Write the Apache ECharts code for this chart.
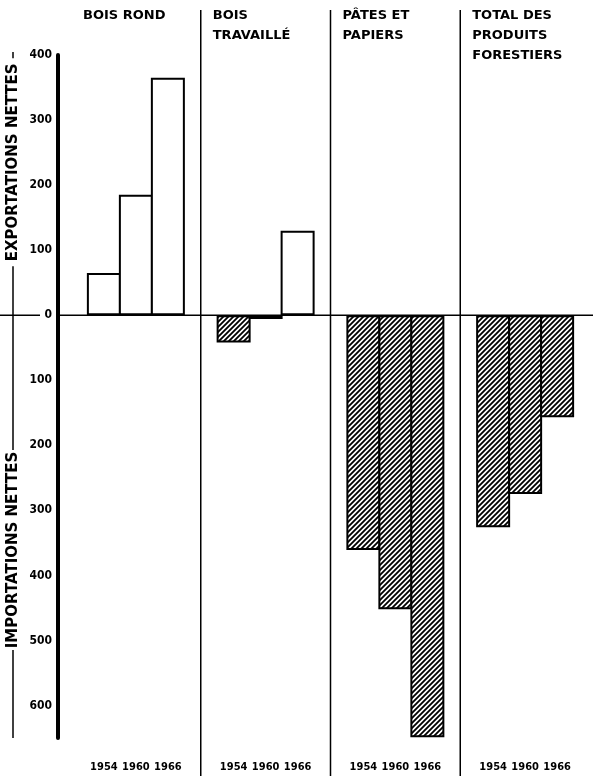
<!DOCTYPE html>
<html>
<head>
<meta charset="utf-8">
<script src="https://cdn.jsdelivr.net/npm/echarts@6/dist/echarts.min.js"></script>
<style>
html,body{margin:0;padding:0;background:#fff;}
#c{width:593px;height:778px;}
</style>
</head>
<body>
<div id="c"></div>
<script>
// ---- data ----
var groups = ['BOIS ROND', 'BOIS\nTRAVAILLÉ', 'PÂTES ET\nPAPIERS', 'TOTAL DES\nPRODUITS\nFORESTIERS'];
var years = ['1954', '1960', '1966'];
var v1954 = [65, -42, -361, -326];
var v1960 = [185, -6, -452, -275];
var v1966 = [365, 130, -649, -157];
var yTicks = [400, 300, 200, 100, 0, -100, -200, -300, -400, -500, -600];
var exportTitle = 'EXPORTATIONS NETTES';
var importTitle = 'IMPORTATIONS NETTES';

// ---- hatch pattern ----
var tile = document.createElement('canvas');
tile.width = 5; tile.height = 5;
var g = tile.getContext('2d');
g.fillStyle = '#fff'; g.fillRect(0, 0, 5, 5);
g.strokeStyle = '#000'; g.lineWidth = 1.8;
g.beginPath();
g.moveTo(-1, 6); g.lineTo(6, -1);
g.moveTo(-1, 1); g.lineTo(1, -1);
g.moveTo(4, 6); g.lineTo(6, 4);
g.stroke();
var hatch = { image: tile, repeat: 'repeat' };

function buildData(arr) {
  return arr.map(function (v) {
    return { value: v, itemStyle: { color: v < 0 ? hatch : '#fff' } };
  });
}
var seriesVals = [v1954, v1960, v1966];

var chart = echarts.init(document.getElementById('c'), null, { renderer: 'canvas' });
var font = 'DejaVu Sans';
var condensed = 'DejaVu Sans Condensed';

chart.setOption({
  animation: false,
  backgroundColor: '#fff',
  grid: { left: 71, right: 3, top: 55, bottom: 40, containLabel: false },
  xAxis: {
    type: 'category',
    data: groups,
    axisLine: { show: false },
    axisTick: { show: false },
    splitLine: { show: false },
    axisLabel: {
      margin: 24,
      interval: 0,
      formatter: function () {
        return years.map(function (y) { return '{y|' + y + '}'; }).join('');
      },
      rich: { y: { width: 32, align: 'center', fontSize: 11, fontWeight: 'bold', fontFamily: condensed, color: '#000' } }
    }
  },
  yAxis: {
    type: 'value',
    min: -650, max: 400, interval: 50,
    offset: 13,
    axisLine: { show: true, lineStyle: { color: '#000', width: 4 } },
    axisTick: { show: false },
    splitLine: { show: false },
    axisLabel: {
      margin: 6,
      color: '#000',
      fontSize: 12,
      fontWeight: 'bold',
      fontFamily: condensed,
      formatter: function (v) {
        return yTicks.indexOf(v) >= 0 ? String(Math.abs(v)) : '';
      }
    }
  },
  series: seriesVals.map(function (arr, i) {
    return {
      type: 'bar',
      name: years[i],
      data: buildData(arr),
      barWidth: 34,
      barGap: '-5.9%',
      itemStyle: { borderColor: '#000', borderWidth: 2 },
      z: 2
    };
  })
});

// ---- decorations positioned through the library's scales ----
var y0 = chart.convertToPixel({ yAxisIndex: 0 }, 0);
var yTop = chart.convertToPixel({ yAxisIndex: 0 }, 400);
var yBot = chart.convertToPixel({ yAxisIndex: 0 }, -650);
var cx = groups.map(function (gname, i) { return chart.convertToPixel({ xAxisIndex: 0 }, i); });
var half = (cx[1] - cx[0]) / 2;
var axisX = cx[0] - half - 13;

var elems = [];
// zero line
elems.push({ type: 'line', shape: { x1: 0, y1: y0, x2: 40, y2: y0 }, style: { stroke: '#000', lineWidth: 1.5 }, z: 10 });
elems.push({ type: 'line', shape: { x1: axisX, y1: y0, x2: 593, y2: y0 }, style: { stroke: '#000', lineWidth: 1.5 }, z: 10 });
// dividers
for (var i = 1; i < groups.length; i++) {
  var dx = cx[i] - half;
  elems.push({ type: 'line', shape: { x1: dx, y1: 10, x2: dx, y2: 776 }, style: { stroke: '#000', lineWidth: 1.5 }, z: 10 });
}
// group titles
groups.forEach(function (t, i) {
  elems.push({
    type: 'text', x: cx[i] - half + 12, y: 6, z: 10,
    style: { text: t, font: 'bold 13px "' + font + '"', fill: '#000', lineHeight: 20, align: 'left', verticalAlign: 'top' }
  });
});
// left axis titles
var tx = 13;
var expC = chart.convertToPixel({ yAxisIndex: 0 }, 235);
var impC = chart.convertToPixel({ yAxisIndex: 0 }, -361);
var tFont = 'bold 15px "' + font + '"';
elems.push({
  type: 'text', x: tx, y: expC, rotation: Math.PI / 2, z: 10,
  style: { text: exportTitle, font: tFont, fill: '#000', align: 'center', verticalAlign: 'middle' }
});
elems.push({
  type: 'text', x: tx, y: impC, rotation: Math.PI / 2, z: 10,
  style: { text: importTitle, font: tFont, fill: '#000', align: 'center', verticalAlign: 'middle' }
});
elems.push({ type: 'line', shape: { x1: tx, y1: yTop - 3, x2: tx, y2: expC - 104 }, style: { stroke: '#000', lineWidth: 1.5 }, z: 10 });
elems.push({ type: 'line', shape: { x1: tx, y1: expC + 104, x2: tx, y2: impC - 100 }, style: { stroke: '#000', lineWidth: 1.5 }, z: 10 });
elems.push({ type: 'line', shape: { x1: tx, y1: impC + 100, x2: tx, y2: yBot }, style: { stroke: '#000', lineWidth: 1.5 }, z: 10 });

chart.setOption({ graphic: { elements: elems } });
</script>
</body>
</html>
